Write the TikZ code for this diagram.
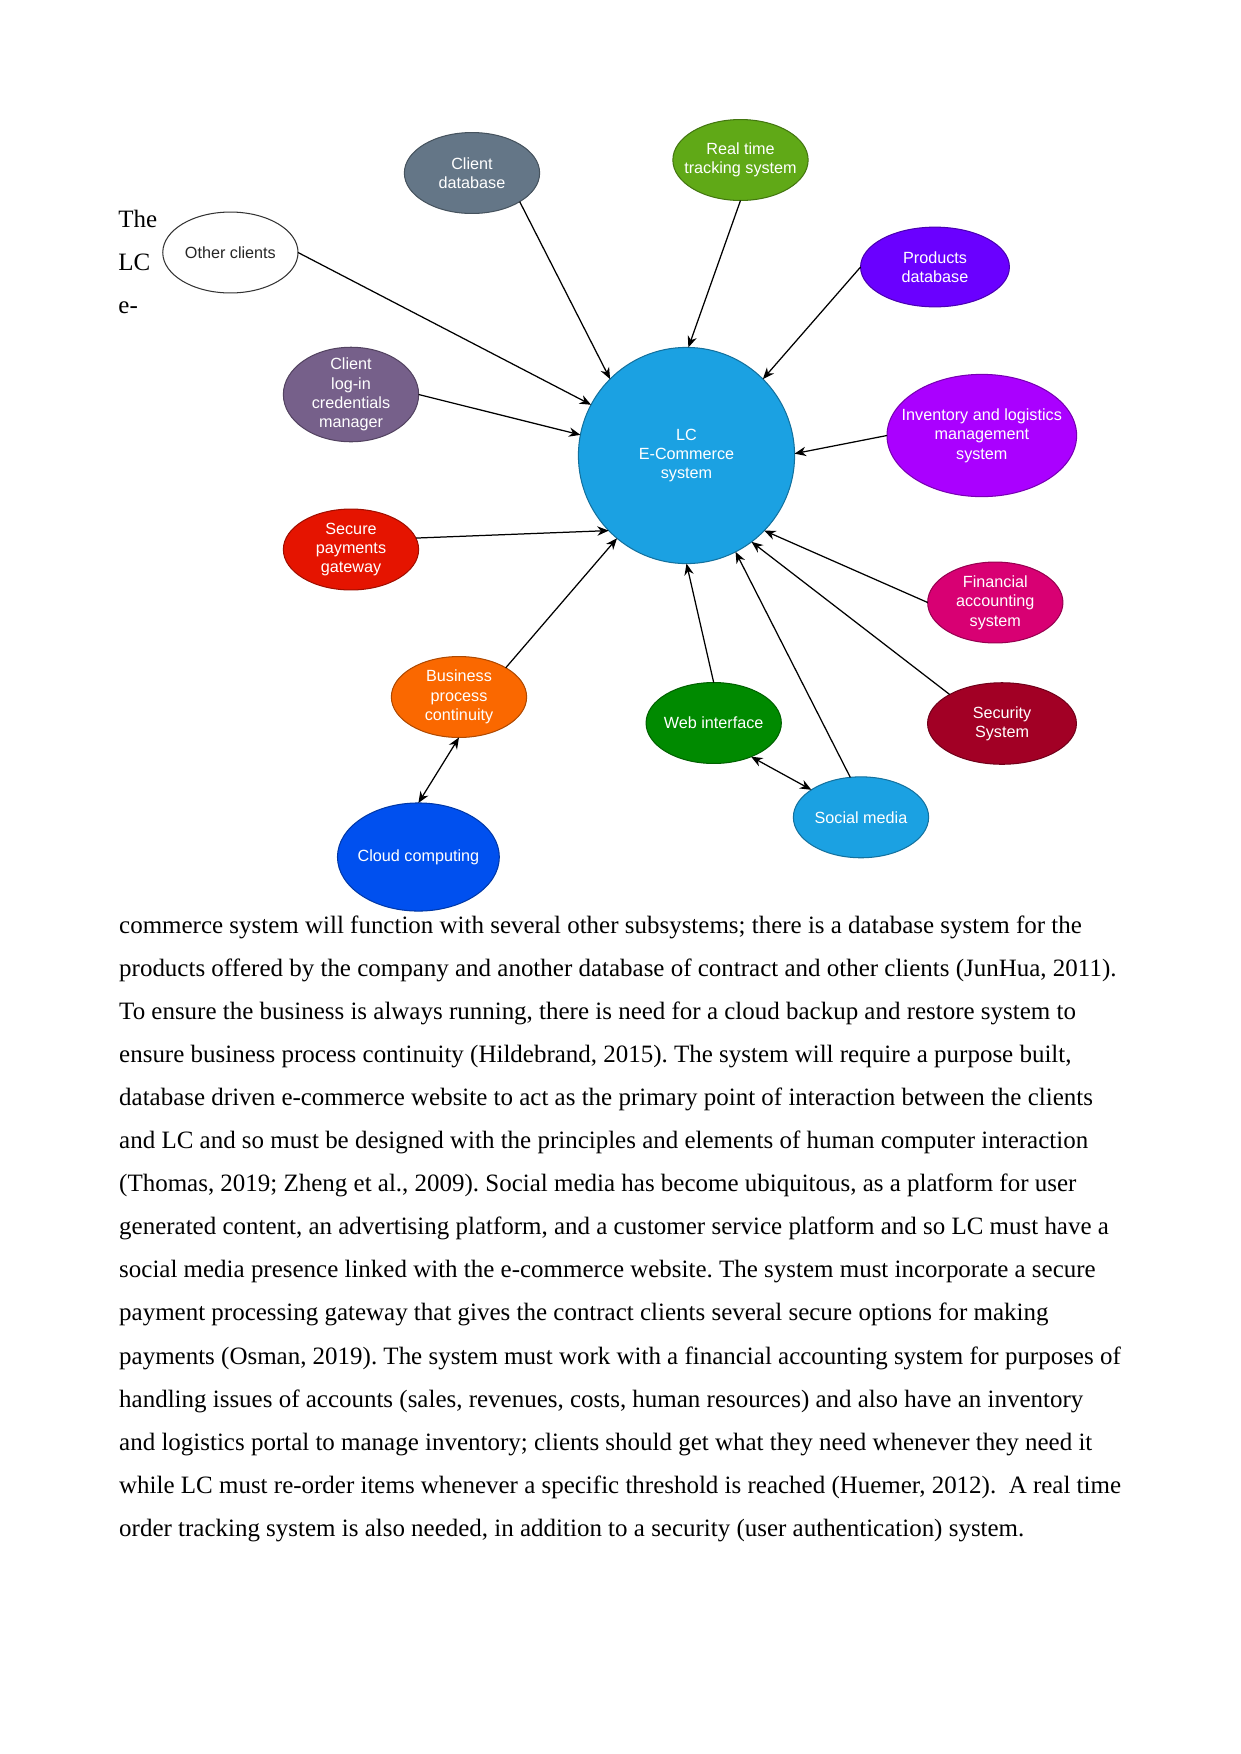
\documentclass[tikz,border=0pt]{standalone}
\usepackage{fontspec}
\setmainfont{Liberation Serif}
\setsansfont{Liberation Sans}
\usetikzlibrary{arrows.meta,shapes.geometric}
\definecolor{DbGray}{HTML}{647687}
\definecolor{TrackGreen}{HTML}{60A917}
\definecolor{ProdIndigo}{HTML}{6A00FF}
\definecolor{InvViolet}{HTML}{AA00FF}
\definecolor{CoreCyan}{HTML}{1BA1E2}
\definecolor{LoginMauve}{HTML}{76608A}
\definecolor{PayRed}{HTML}{E51400}
\definecolor{BpcOrange}{HTML}{FA6800}
\definecolor{CloudCobalt}{HTML}{0050EF}
\definecolor{WebEmerald}{HTML}{008A00}
\definecolor{FinMagenta}{HTML}{D80073}
\definecolor{SecCrimson}{HTML}{A20025}
\newcommand{\feed}[3][]{%
  \draw[link,#1] (#2)--(#3);}
\frenchspacing

\begin{document}
\begin{tikzpicture}[x=0.1693mm,y=-0.1693mm,
  sub/.style={ellipse,fill=#1,draw=#1!70!black,line width=0.5pt,
    minimum width=22.9mm,minimum height=13.7mm,inner sep=-3mm,outer sep=0pt,
    align=center,text=white,font=\sffamily\fontsize{7.8}{9.3}\selectfont},
  body/.style={anchor=base west,inner sep=0pt,font=\fontsize{12.03}{14}\selectfont},
  link/.style={-{Stealth[length=5.5pt,width=4.5pt]},line width=0.6pt},
  duplex/.style={{Stealth[length=5.5pt,width=4.5pt]}-{Stealth[length=5.5pt,width=4.5pt]}}]
  \useasboundingbox (0,0) rectangle (1241,1754);
  % centre and subsystems
  \node[sub=CoreCyan,minimum width=36.6mm,minimum height=36.6mm] (lc) at (686.5,455.5) {LC\\E-Commerce\\system};
  \node[sub=white,draw=black!80,text=black!85] (other) at (230.4,252.5) {Other clients};
  \node[sub=DbGray] (cdb) at (472,173) {Client\\database};
  \node[sub=LoginMauve,minimum height=16mm] (login) at (351,394.5) {Client\\log-in\\credentials\\manager};
  \node[sub=TrackGreen] (rts) at (740.5,160) {Real time\\tracking system};
  \node[sub=ProdIndigo,minimum width=25.2mm,minimum height=13.5mm] (pdb) at (935,267) {Products\\database};
  \node[sub=InvViolet,minimum width=32.1mm,minimum height=20.7mm] (inv) at (981.8,435.5) {Inventory and logistics\\management\\system};
  \node[sub=PayRed] (pay) at (351,549.5) {Secure\\payments\\gateway};
  \node[sub=BpcOrange] (bpc) at (459,697) {Business\\process\\continuity};
  \node[sub=CloudCobalt,minimum width=27.4mm,minimum height=18.3mm] (cloud) at (418.4,857) {Cloud computing};
  \node[sub=WebEmerald] (web) at (713.7,723) {Web interface};
  \node[sub=FinMagenta] (fin) at (995.3,602.5) {Financial\\accounting\\system};
  \node[sub=SecCrimson,minimum width=25.2mm,minimum height=13.8mm] (sec) at (1002,723.5) {Security\\System};
  \node[sub=CoreCyan] (soc) at (861,817.3) {Social media};
  % connectors
  \feed{other.east}{lc.152}
  \feed{cdb.329}{lc.135}
  \feed{login.east}{lc.169}
  \feed{rts.south}{lc.89}
  \feed{pdb.west}{lc.45}
  \feed{inv.west}{lc.1}
  \feed{pay.10}{lc.224}
  \feed{bpc.32}{lc.230}
  \feed[duplex]{bpc.south}{cloud.north}
  \feed{web.north}{lc.270}
  \feed{fin.west}{lc.316}
  \feed{sec.151}{lc.307}
  \feed{soc.105}{lc.297}
  \feed[duplex]{web.318}{soc.151}
  % running text
  \node[body] (p1) at (118,227.3) {The};
  \node[body] (p2) at (118,270.4) {LC};
  \node[body] (p3) at (118,313.4) {e-};
  \node[body] (t1) at (118.8,933.3) {commerce system will function with several other subsystems; there is a database system for the};
  \node[body] (t2) at (118.8,976.4) {products offered by the company and another database of contract and other clients (JunHua, 2011).};
  \node[body] (t3) at (118.8,1019.4) {To ensure the business is always running, there is need for a cloud backup and restore system to};
  \node[body] (t4) at (118.8,1062.5) {ensure business process continuity (Hildebrand, 2015). The system will require a purpose built,};
  \node[body] (t5) at (118.8,1105.6) {database driven e-commerce website to act as the primary point of interaction between the clients};
  \node[body] (t6) at (118.8,1148.6) {and LC and so must be designed with the principles and elements of human computer interaction};
  \node[body] (t7) at (118.8,1191.7) {(Thomas, 2019; Zheng et al., 2009). Social media has become ubiquitous, as a platform for user};
  \node[body] (t8) at (118.8,1234.8) {generated content, an advertising platform, and a customer service platform and so LC must have a};
  \node[body] (t9) at (118.8,1277.9) {social media presence linked with the e-commerce website. The system must incorporate a secure};
  \node[body] (t10) at (118.8,1320.9) {payment processing gateway that gives the contract clients several secure options for making};
  \node[body] (t11) at (118.8,1364.0) {payments (Osman, 2019). The system must work with a financial accounting system for purposes of};
  \node[body] (t12) at (118.8,1407.1) {handling issues of accounts (sales, revenues, costs, human resources) and also have an inventory};
  \node[body] (t13) at (118.8,1450.1) {and logistics portal to manage inventory; clients should get what they need whenever they need it};
  \node[body] (t14) at (118.8,1493.2) {while LC must re-order items whenever a specific threshold is reached (Huemer, 2012).~ A real time};
  \node[body] (t15) at (118.8,1536.3) {order tracking system is also needed, in addition to a security (user authentication) system.};
\end{tikzpicture}
\end{document}
